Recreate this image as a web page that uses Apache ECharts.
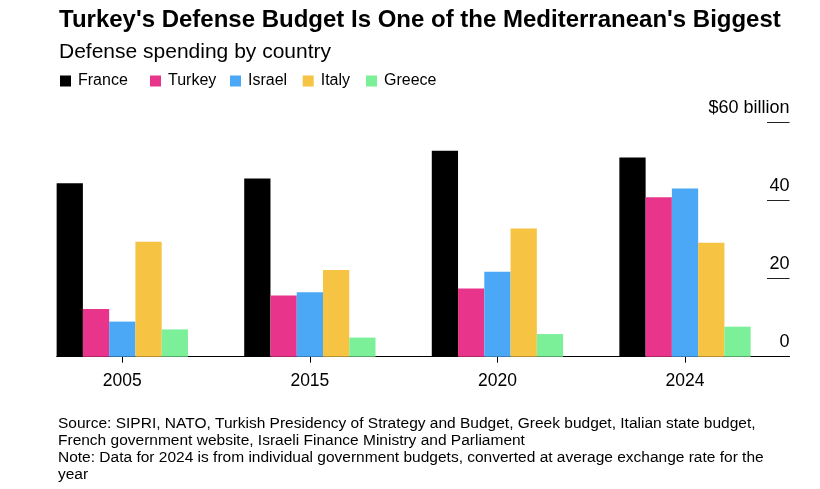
<!DOCTYPE html>
<html>
<head>
<meta charset="utf-8">
<script src="https://cdn.jsdelivr.net/npm/echarts@6/dist/echarts.min.js"></script>
<style>
html,body{margin:0;padding:0;background:#fff;}
#chart{width:820px;height:489px;}
</style>
</head>
<body>
<div id="chart"></div>
<script>
const years = ['2005', '2015', '2020', '2024'];
const countries = ['France', 'Turkey', 'Israel', 'Italy', 'Greece'];
const france = [44.5, 45.7, 52.8, 51.1];
const turkey = [12.2, 15.7, 17.5, 40.9];
const israel = [9.0, 16.5, 21.8, 43.1];
const italy = [29.5, 22.2, 32.9, 29.2];
const greece = [7.0, 4.9, 5.8, 7.7];
const yTicks = [0, 20, 40, 60];
const colors = ['#000000', '#e8348a', '#4ba8f6', '#f6c343', '#7cef99'];

const seriesValues = [france, turkey, israel, italy, greece];
const FONT = '"Liberation Sans", Arial, Helvetica, sans-serif';
const legendLefts = [55, 145, 225, 297.7, 361];

const chart = echarts.init(document.getElementById('chart'), null, {renderer: 'canvas'});

const gridTop = 122.7, gridBottom = 489 - 356.7;

const option = {
  animation: false,
  backgroundColor: '#ffffff',
  textStyle: {fontFamily: FONT},
  title: [
    {
      text: "Turkey's Defense Budget Is One of the Mediterranean's Biggest",
      left: 54, top: 3,
      textStyle: {fontFamily: FONT, fontSize: 24, fontWeight: 'bold', color: '#000'}
    },
    {
      text: 'Defense spending by country',
      left: 54, top: 37,
      textStyle: {fontFamily: FONT, fontSize: 21, fontWeight: 'normal', color: '#000'}
    },
    {
      text: 'Source: SIPRI, NATO, Turkish Presidency of Strategy and Budget, Greek budget, Italian state budget,\nFrench government website, Israeli Finance Ministry and Parliament\nNote: Data for 2024 is from individual government budgets, converted at average exchange rate for the\nyear',
      left: 53, top: 410,
      textStyle: {fontFamily: FONT, fontSize: 15.5, fontWeight: 'normal', color: '#000', lineHeight: 17}
    }
  ],
  legend: countries.map(function (c, i) {
    return {
      left: legendLefts[i], top: 68,
      icon: 'rect',
      itemWidth: 11, itemHeight: 11,
      data: [c],
      selectedMode: false,
      textStyle: {fontFamily: FONT, fontSize: 16, color: '#000', padding: [0, 0, 0, 2]}
    };
  }),
  grid: [
    {left: 28.5, right: 820 - 778.8, top: gridTop, bottom: gridBottom},
    {left: 56.7, right: 820 - 789.5, top: gridTop, bottom: gridBottom},
    {left: 767, right: 820 - 789.5, top: gridTop, bottom: gridBottom}
  ],
  xAxis: [
    {
      type: 'category', gridIndex: 0, data: years,
      axisLine: {show: false},
      axisTick: {show: true, alignWithLabel: true, length: 6, lineStyle: {color: '#000', width: 1}},
      axisLabel: {fontFamily: FONT, fontSize: 17.5, color: '#000', margin: 15}
    },
    {
      type: 'value', gridIndex: 1, min: 0, max: 1,
      axisLine: {show: true, lineStyle: {color: '#000', width: 1}},
      axisTick: {show: false}, axisLabel: {show: false}, splitLine: {show: false}
    },
    {
      type: 'value', gridIndex: 2, min: 0, max: 1,
      axisLine: {show: false}, axisTick: {show: false}, axisLabel: {show: false}, splitLine: {show: false}
    }
  ],
  yAxis: [
    {type: 'value', gridIndex: 0, min: 0, max: 60, show: false},
    {type: 'value', gridIndex: 1, min: 0, max: 60, show: false},
    {
      type: 'value', gridIndex: 2, min: 0, max: 60, interval: 20, position: 'right',
      axisLine: {show: false}, axisTick: {show: false},
      splitLine: {show: true, lineStyle: {color: '#222', width: 1}},
      axisLabel: {
        inside: true, margin: 0, fontFamily: FONT, fontSize: 18, color: '#000',
        verticalAlign: 'bottom', padding: [0, 0, 6, 0],
        formatter: function (v) { return v === yTicks[yTicks.length - 1] ? '$' + v + ' billion' : String(v); }
      }
    }
  ],
  series: countries.map(function (name, i) {
    return {
      name: name, type: 'bar', xAxisIndex: 0, yAxisIndex: 0,
      data: seriesValues[i],
      barGap: '0%', barCategoryGap: '30%',
      itemStyle: {color: colors[i]},
      emphasis: {disabled: true}
    };
  })
};

chart.setOption(option);
</script>
</body>
</html>
